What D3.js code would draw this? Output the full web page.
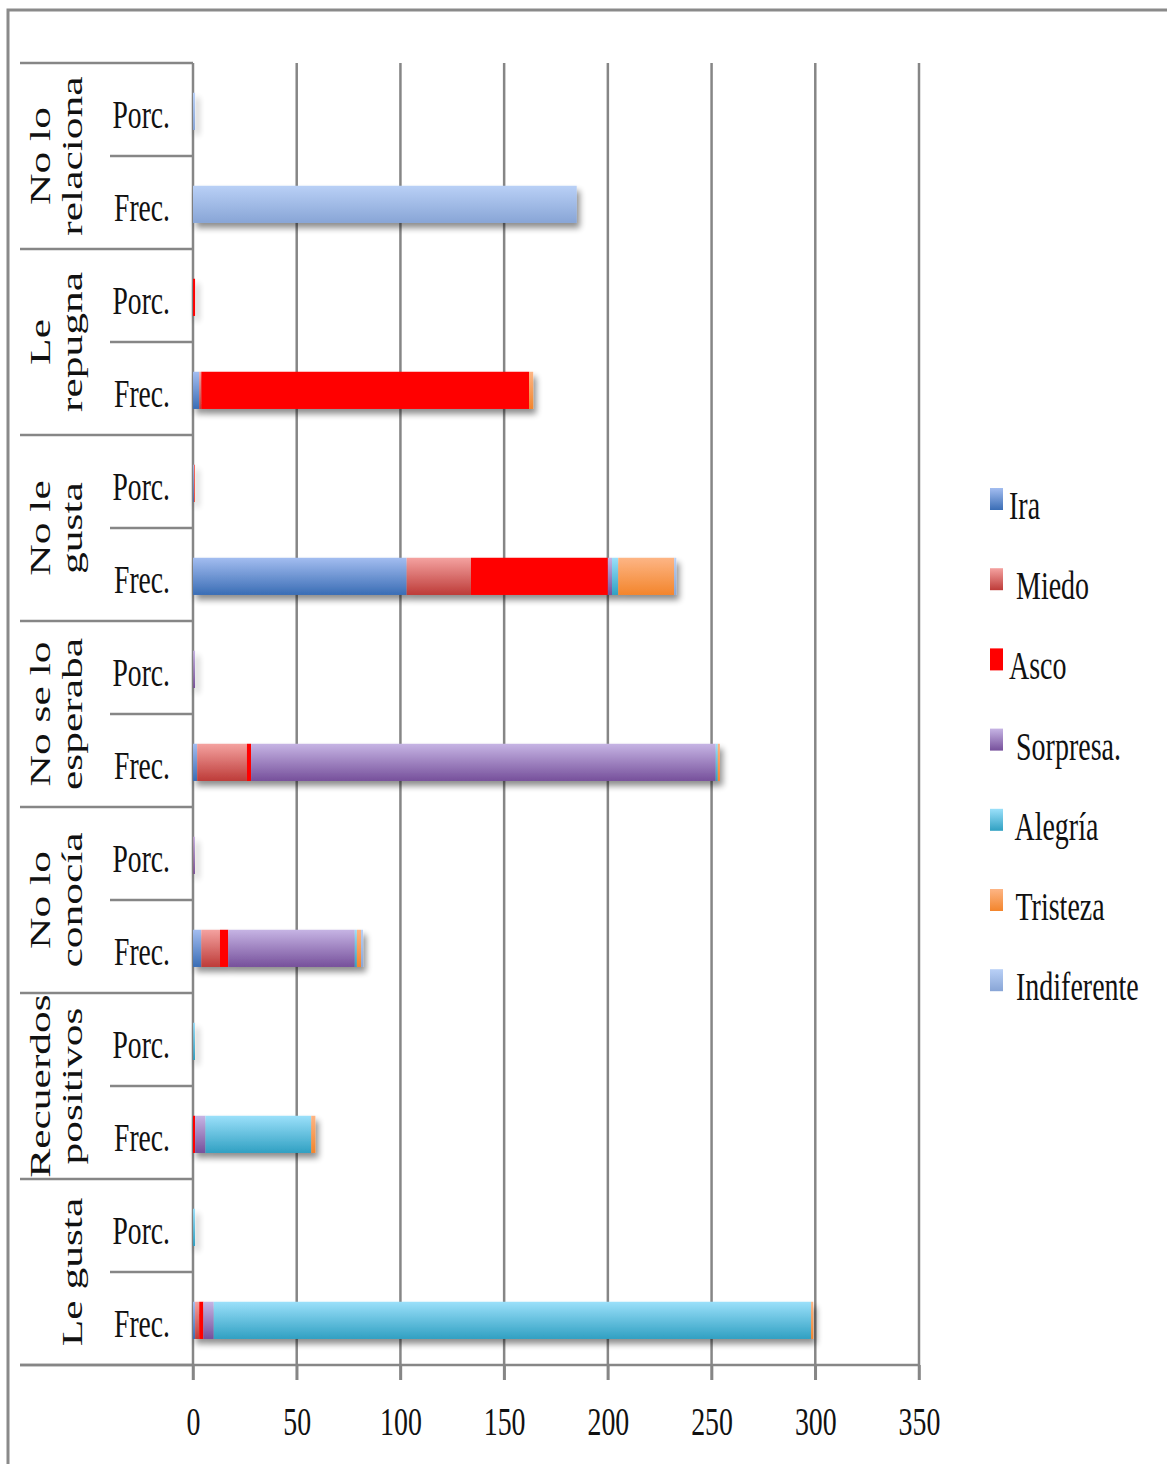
<!DOCTYPE html>
<html>
<head>
<meta charset="utf-8">
<script src="https://cdn.jsdelivr.net/npm/d3@7"></script>
<style>
  html, body { margin: 0; padding: 0; background: #fff; }
  svg { display: block; }
  text { font-family: "Liberation Serif", "DejaVu Serif", serif; fill: #111; }
</style>
</head>
<body>
<svg id="chart" width="1167" height="1464"></svg>
<script>
// Categories, top to bottom; each has a "Porc." and a "Frec." row
const categories = ["No lo relaciona", "Le repugna", "No le gusta", "No se lo esperaba", "No lo conocía", "Recuerdos positivos", "Le gusta"];
const categoryLines = [["No lo", "relaciona"], ["Le", "repugna"], ["No le", "gusta"], ["No se lo", "esperaba"], ["No lo", "conocía"], ["Recuerdos", "positivos"], ["", "Le gusta"]];
const measures = ["Porc.", "Frec."];

const seriesNames = ["Ira", "Miedo", "Asco", "Sorpresa.", "Alegría", "Tristeza", "Indiferente"];
const legendLabels = ["Ira", " Miedo", "Asco", " Sorpresa.", " Alegría", " Tristeza", " Indiferente"];

// Frequencies per emotion, in category order
const frecIra         = [0,   3, 103,   2,  4,  0,   1];
const frecMiedo       = [0,   1,  31,  24,  9,  0,   2];
const frecAsco        = [0, 158,  66,   2,  4,  1,   2];
const frecSorpresa    = [0,   0,   2, 224, 61,  5,   5];
const frecAlegria     = [0,   0,   3,   1,  1, 51, 288];
const frecTristeza    = [0,   2,  27,   1,  2,  2,   1];
const frecIndiferente = [185, 0,   1,   0,  1,  0,   0];

// Proportions per emotion, in category order
const porcIra         = [0, 0.018, 0.442, 0.008, 0.049, 0,     0.003];
const porcMiedo       = [0, 0.006, 0.133, 0.094, 0.110, 0,     0.007];
const porcAsco        = [0, 0.963, 0.283, 0.008, 0.049, 0.017, 0.007];
const porcSorpresa    = [0, 0,     0.009, 0.882, 0.744, 0.085, 0.017];
const porcAlegria     = [0, 0,     0.013, 0.004, 0.012, 0.864, 0.963];
const porcTristeza    = [0, 0.012, 0.116, 0.004, 0.024, 0.034, 0.003];
const porcIndiferente = [1, 0,     0.004, 0,     0.012, 0,     0];

const xTicks = [0, 50, 100, 150, 200, 250, 300, 350];

const colorTop    = ["#a3bdf0", "#f4a2a0", "#ff0000", "#c6b4e4", "#9be0fa", "#fdb585", "#b9d0f6"];
const colorBottom = ["#3a6db5", "#bd3b38", "#ff0000", "#76509b", "#30a0c2", "#f3852c", "#88a5d6"];

const frecSeries = [frecIra, frecMiedo, frecAsco, frecSorpresa, frecAlegria, frecTristeza, frecIndiferente];
const porcSeries = [porcIra, porcMiedo, porcAsco, porcSorpresa, porcAlegria, porcTristeza, porcIndiferente];

// One table row per category/measure pair
const rows = [];
categories.forEach((c, i) => {
  measures.forEach(m => {
    const src = m === "Porc." ? porcSeries : frecSeries;
    const r = { key: c + "|" + m, category: c, measure: m };
    seriesNames.forEach((s, k) => { r[s] = src[k][i]; });
    rows.push(r);
  });
});

const svg = d3.select("#chart");
const lineColor = "#868686";

const plotTop = 63, plotBottom = 1365;
const x = d3.scaleLinear().domain([0, 350]).range([193, 919]);
const y = d3.scaleBand().domain(rows.map(r => r.key)).range([plotTop, plotBottom]);
const bw = y.bandwidth();

// defs: gradients and bar shadow
const defs = svg.append("defs");
seriesNames.forEach((s, k) => {
  const g = defs.append("linearGradient").attr("id", "grad" + k)
    .attr("x1", 0).attr("y1", 0).attr("x2", 0).attr("y2", 1);
  g.append("stop").attr("offset", "0%").attr("stop-color", colorTop[k]);
  g.append("stop").attr("offset", "100%").attr("stop-color", colorBottom[k]);
});
const f = defs.append("filter").attr("id", "shadow")
  .attr("filterUnits", "userSpaceOnUse")
  .attr("x", 0).attr("y", 0).attr("width", 1167).attr("height", 1464);
f.append("feGaussianBlur").attr("in", "SourceAlpha").attr("stdDeviation", 3).attr("result", "b");
f.append("feOffset").attr("in", "b").attr("dx", 3).attr("dy", 5).attr("result", "o");
f.append("feComponentTransfer").attr("in", "o").attr("result", "s")
  .append("feFuncA").attr("type", "linear").attr("slope", 0.45);
const fm = f.append("feMerge");
fm.append("feMergeNode").attr("in", "s");
fm.append("feMergeNode").attr("in", "SourceGraphic");

// outer frame
svg.append("path")
  .attr("d", "M8,1464 L8,10 L1167,10")
  .attr("fill", "none").attr("stroke", "#8a8a8a").attr("stroke-width", 3);

// vertical gridlines
svg.append("g").selectAll("line").data(xTicks).join("line")
  .attr("x1", d => x(d)).attr("x2", d => x(d))
  .attr("y1", plotTop).attr("y2", plotBottom + 15)
  .attr("stroke", lineColor).attr("stroke-width", 2.5);

// stacked bars
const stack = d3.stack().keys(seriesNames);
const stacked = stack(rows);
const barG = svg.append("g").attr("filter", "url(#shadow)");
stacked.forEach((layer, k) => {
  barG.append("g").attr("fill", "url(#grad" + k + ")")
    .selectAll("rect").data(layer.filter(d => d[1] - d[0] > 0)).join("rect")
    .attr("x", d => x(d[0]))
    .attr("width", d => x(d[1]) - x(d[0]))
    .attr("y", d => y(d.data.key) + bw * 0.32)
    .attr("height", bw * 0.4);
});

// bottom axis
const axis = d3.axisBottom(x).tickValues(xTicks).tickSize(15).tickFormat(d3.format("d"));
const axG = svg.append("g").attr("transform", `translate(0,${plotBottom})`).call(axis);
axG.select(".domain").remove();
axG.selectAll(".tick line").attr("stroke", lineColor).attr("stroke-width", 2.5);
axG.selectAll(".tick text")
  .attr("y", 0).attr("dy", 0)
  .attr("transform", "translate(0,70) scale(0.68,1)")
  .attr("font-size", 41).attr("fill", "#111")
  .attr("font-family", "Liberation Serif, serif");
svg.append("line")
  .attr("x1", 20).attr("x2", x(350) + 1)
  .attr("y1", plotBottom).attr("y2", plotBottom)
  .attr("stroke", lineColor).attr("stroke-width", 2.5);

// category group separators and measure separators
const groupEdges = categories.map(c => y(c + "|Porc.")).concat([plotBottom]);
svg.append("g").selectAll("line").data(groupEdges).join("line")
  .attr("x1", 20).attr("x2", x(0))
  .attr("y1", d => d).attr("y2", d => d)
  .attr("stroke", lineColor).attr("stroke-width", 2.5);
svg.append("g").selectAll("line").data(categories).join("line")
  .attr("x1", 110).attr("x2", x(0))
  .attr("y1", c => y(c + "|Frec.")).attr("y2", c => y(c + "|Frec."))
  .attr("stroke", lineColor).attr("stroke-width", 2.5);

// measure labels
svg.append("g").selectAll("text").data(rows).join("text")
  .attr("text-anchor", "end")
  .attr("font-size", 40)
  .attr("transform", r => `translate(170,${y(r.key) + bw / 2 + 18}) scale(0.69,1)`)
  .text(r => r.measure);

// rotated category labels
categories.forEach((c, i) => {
  const yc = y(c + "|Porc.") + bw;
  categoryLines[i].forEach((line, j) => {
    if (!line) return;
    svg.append("text")
      .attr("text-anchor", "middle")
      .attr("font-size", 29)
      .attr("transform", `translate(${j === 0 ? 50 : 82},${yc}) scale(1,1.5) rotate(-90)`)
      .text(line);
  });
});

// legend
const legend = svg.append("g").selectAll("g").data(seriesNames).join("g")
  .attr("transform", (d, k) => `translate(0,${519 + k * 80.2})`);
legend.append("rect")
  .attr("x", 990).attr("y", -31).attr("width", 13).attr("height", 22)
  .attr("fill", (d, k) => "url(#grad" + k + ")");
legend.append("text")
  .attr("font-size", 40)
  .attr("style", "white-space:pre")
  .attr("transform", "translate(1009,0) scale(0.7,1)")
  .text((d, k) => legendLabels[k]);
</script>
</body>
</html>
